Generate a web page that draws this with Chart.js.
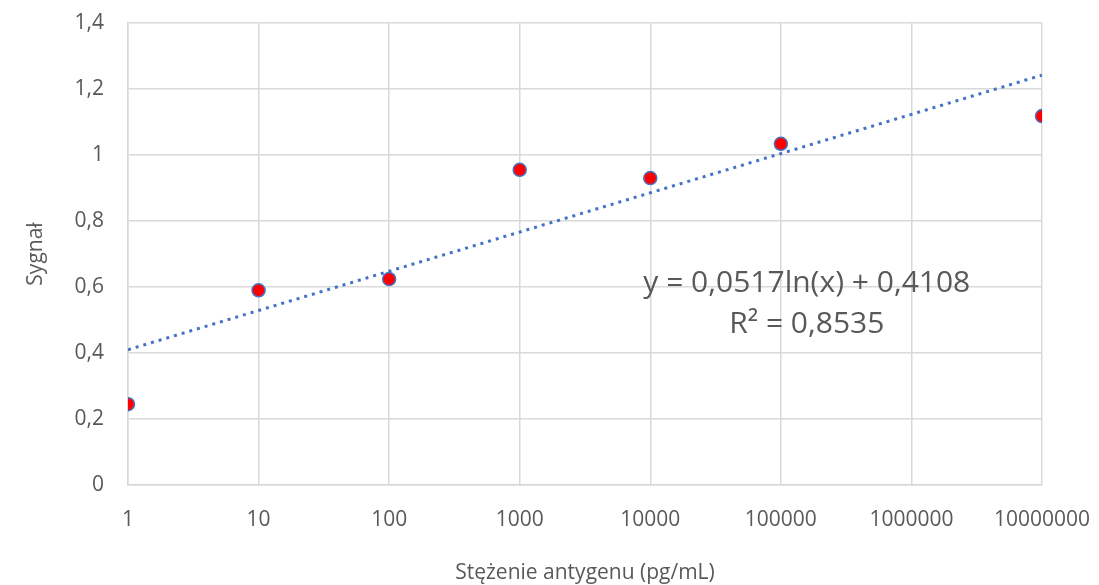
<!DOCTYPE html>
<html>
<head>
<meta charset="utf-8">
<script src="https://cdn.jsdelivr.net/npm/chart.js@4"></script>
<style>
  html, body { margin: 0; padding: 0; background: #fff; }
  #wrap { width: 1099px; height: 585px; }
</style>
</head>
<body>
<div id="wrap"><canvas id="chart" width="1099" height="585"></canvas></div>
<script>
// Data
const concentrations = [1, 10, 100, 1000, 10000, 100000, 10000000];
const signals = [0.245, 0.59, 0.624, 0.955, 0.93, 1.034, 1.118];
const trendX = [1, 10000000];
const trendY = [0.41, 1.242];
const xTicks = [1, 10, 100, 1000, 10000, 100000, 1000000, 10000000];
const equationText = 'y = 0,0517ln(x) + 0,4108';
const r2Text = 'R² = 0,8535';

const FONT = "'Open Sans', sans-serif";
const GREY = '#595959';
const GRID = '#D9D9D9';

// Draws the trendline equation label, anchored to data coordinates
const equationLabel = {
    id: 'equationLabel',
    afterDatasetsDraw(chart) {
        const { ctx, scales } = chart;
        const cx = scales.x.getPixelForValue(158000);
        ctx.save();
        ctx.fillStyle = GREY;
        ctx.font = "30px " + FONT;
        ctx.textAlign = 'center';
        ctx.textBaseline = 'middle';
        ctx.fillText(equationText, cx, scales.y.getPixelForValue(0.612));
        ctx.fillText(r2Text, cx, scales.y.getPixelForValue(0.486));
        ctx.restore();
    }
};

new Chart(document.getElementById('chart'), {
    type: 'scatter',
    data: {
        datasets: [{
            label: 'Sygnał',
            data: concentrations.map((x, i) => ({ x: x, y: signals[i] })),
            backgroundColor: '#FF0000',
            borderColor: '#4472C4',
            borderWidth: 1.5,
            pointRadius: 6.5,
            order: 1
        }, {
            label: 'Trend',
            type: 'line',
            data: trendX.map((x, i) => ({ x: x, y: trendY[i] })),
            borderColor: '#4472C4',
            borderWidth: 3,
            borderDash: [3, 5],
            pointRadius: 0,
            fill: false,
            order: 2
        }]
    },
    options: {
        responsive: false,
        animation: false,
        layout: { padding: { top: 23, right: 57, left: 0, bottom: 0 } },
        plugins: {
            legend: { display: false },
            tooltip: { enabled: false }
        },
        scales: {
            x: {
                type: 'logarithmic',
                min: 1,
                max: 10000000,
                afterBuildTicks: (axis) => {
                    axis.ticks = xTicks.map(v => ({ value: v }));
                },
                afterFit: (axis) => {
                    axis.height = 100;
                    // let the end labels overhang instead of shrinking the plot
                    axis.paddingLeft = 0;
                    axis.paddingRight = 0;
                },
                grid: { color: GRID, lineWidth: 1.5, drawTicks: false },
                border: { color: GRID, width: 1.5 },
                ticks: {
                    color: GREY,
                    font: { family: FONT, size: 21 },
                    padding: 22,
                    maxRotation: 0,
                    autoSkip: false,
                    callback: (v) => String(v)
                },
                title: {
                    display: true,
                    text: 'Stężenie antygenu (pg/mL)',
                    color: GREY,
                    font: { family: FONT, size: 21 },
                    padding: { top: 25, bottom: -1 }
                }
            },
            y: {
                min: 0,
                max: 1.4,
                afterFit: (axis) => {
                    axis.width = 128;
                    axis.paddingTop = 0;
                    axis.paddingBottom = 0;
                },
                grid: { color: GRID, lineWidth: 1.5, drawTicks: false },
                border: { color: GRID, width: 1.5 },
                ticks: {
                    stepSize: 0.2,
                    color: GREY,
                    font: { family: FONT, size: 21 },
                    padding: 24,
                    callback: (v) => String(Math.round(v * 10) / 10).replace('.', ',')
                },
                title: {
                    display: true,
                    text: 'Sygnał',
                    color: GREY,
                    font: { family: FONT, size: 21 },
                    padding: { top: 23, bottom: 0 }
                }
            }
        }
    },
    plugins: [equationLabel]
});
</script>
</body>
</html>
